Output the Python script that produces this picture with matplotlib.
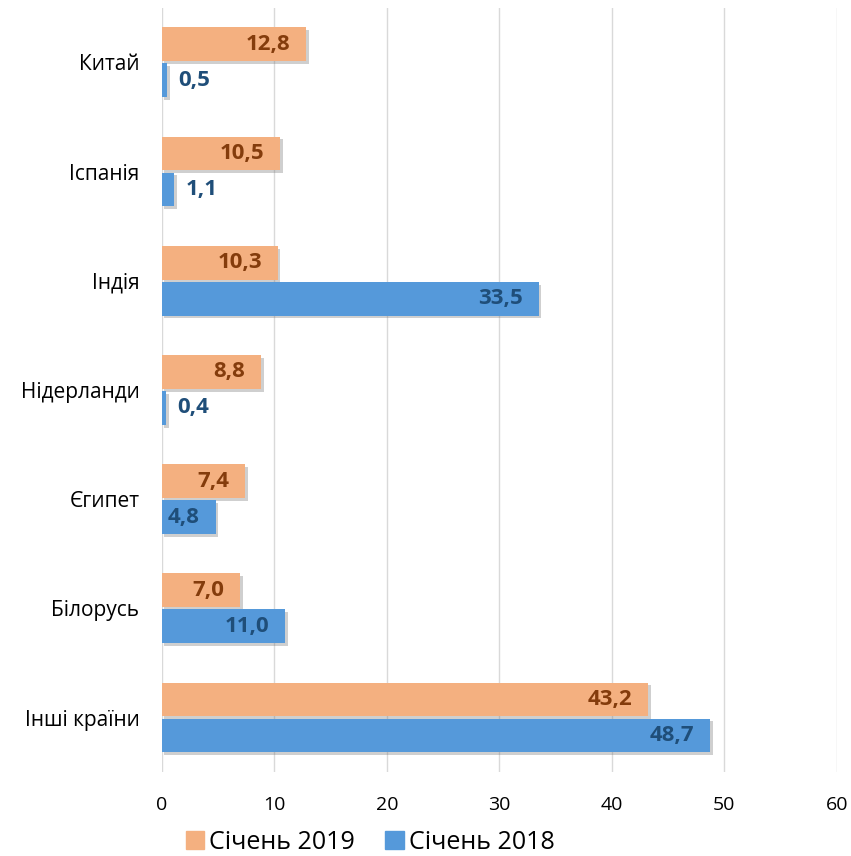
import matplotlib
matplotlib.use('Agg')
import matplotlib.pyplot as plt
import matplotlib.patheffects as pe
from matplotlib.patches import Patch
import numpy as np

plt.rcParams['font.family'] = ['Open Sans', 'DejaVu Sans']

# дані
countries = ['Китай', 'Іспанія', 'Індія', 'Нідерланди', 'Єгипет', 'Білорусь', 'Інші країни']
jan2019 = [12.8, 10.5, 10.3, 8.8, 7.4, 7.0, 43.2]
jan2018 = [0.5, 1.1, 33.5, 0.4, 4.8, 11.0, 48.7]
xticks = [0, 10, 20, 30, 40, 50, 60]

c19 = '#F4B080'
c18 = '#5599DA'
t19 = '#843C0C'
t18 = '#1F4E79'

fig = plt.figure(figsize=(8.51, 8.56), dpi=100)
ax = fig.add_axes([0.190, 0.098, 0.7935, 0.893])

y = np.arange(len(countries))
h = 0.31
off = 0.165
shadow = [pe.SimplePatchShadow(offset=(2, -2), alpha=0.35, shadow_rgbFace='#777777'), pe.Normal()]

b19 = ax.barh(y - off, jan2019, height=h, color=c19, zorder=3)
b18 = ax.barh(y + off, jan2018, height=h, color=c18, zorder=3)
for b in list(b19) + list(b18):
    b.set_path_effects(shadow)

def put_labels(vals, ys, col):
    for v, yy in zip(vals, ys):
        s = ('%.1f' % v).replace('.', ',')
        if v > 3:
            ax.text(v - 1.4, yy, s, ha='right', va='center', color=col,
                    fontsize=16, fontweight='bold', zorder=4)
        else:
            ax.text(v + 1.0, yy, s, ha='left', va='center', color=col,
                    fontsize=16, fontweight='bold', zorder=4)

put_labels(jan2019, y - off, t19)
put_labels(jan2018, y + off, t18)

ax.set_xlim(0, 60)
ax.set_ylim(len(countries) - 0.5, -0.5)
ax.set_xticks(xticks)
ax.set_xticklabels([str(t) for t in xticks], fontsize=14)
ax.set_yticks(y)
ax.set_yticklabels(countries, fontsize=15)
ax.tick_params(length=0)
ax.tick_params(axis='y', pad=16)
ax.tick_params(axis='x', pad=17)
ax.grid(axis='x', color='#D9D9D9', linewidth=1, zorder=0)
for s in ax.spines.values():
    s.set_visible(False)

hs = [Patch(color=c19, label='Січень 2019'), Patch(color=c18, label='Січень 2018')]
fig.legend(handles=hs, loc='center', bbox_to_anchor=(0.435, 0.016),
           ncol=2, frameon=False, fontsize=18, handlelength=0.75, handleheight=0.75,
           handletextpad=0.2, columnspacing=1.2, borderpad=0)

fig.savefig('out.png', dpi=100)
